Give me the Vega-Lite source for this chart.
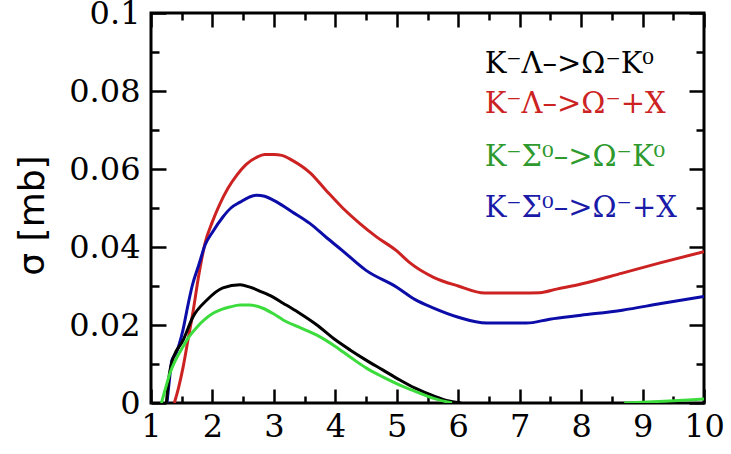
{
  "$schema": "https://vega.github.io/schema/vega-lite/v6.json",
  "width": 553,
  "height": 390,
  "autosize": {"type": "none"},
  "padding": {"left": 151, "top": 13, "right": 27, "bottom": 51},
  "background": "white",
  "config": {
    "view": {"stroke": "black", "strokeWidth": 3},
    "axis": {
      "domain": false,
      "grid": false,
      "ticks": true,
      "tickColor": "black",
      "tickWidth": 2.5,
      "title": null,
      "labelFont": "DejaVu Serif",
      "labelFontSize": 32,
      "labelColor": "black",
      "labelFlush": false,
      "labelOverlap": false,
      "labelBound": false
    }
  },
  "datasets": {
    "curves": [
      {"E": 1.38, "s": 0, "k": "red", "g": 1},
      {"E": 1.45, "s": 0.004, "k": "red", "g": 1},
      {"E": 1.52, "s": 0.009, "k": "red", "g": 1},
      {"E": 1.6, "s": 0.016, "k": "red", "g": 1},
      {"E": 1.68, "s": 0.023, "k": "red", "g": 1},
      {"E": 1.78, "s": 0.033, "k": "red", "g": 1},
      {"E": 1.88, "s": 0.041, "k": "red", "g": 1},
      {"E": 2.0, "s": 0.0465, "k": "red", "g": 1},
      {"E": 2.12, "s": 0.051, "k": "red", "g": 1},
      {"E": 2.25, "s": 0.055, "k": "red", "g": 1},
      {"E": 2.4, "s": 0.0585, "k": "red", "g": 1},
      {"E": 2.55, "s": 0.0612, "k": "red", "g": 1},
      {"E": 2.72, "s": 0.063, "k": "red", "g": 1},
      {"E": 2.85, "s": 0.0637, "k": "red", "g": 1},
      {"E": 3.0, "s": 0.0637, "k": "red", "g": 1},
      {"E": 3.13, "s": 0.0635, "k": "red", "g": 1},
      {"E": 3.3, "s": 0.0622, "k": "red", "g": 1},
      {"E": 3.59, "s": 0.059, "k": "red", "g": 1},
      {"E": 3.85, "s": 0.0545, "k": "red", "g": 1},
      {"E": 4.12, "s": 0.05, "k": "red", "g": 1},
      {"E": 4.4, "s": 0.046, "k": "red", "g": 1},
      {"E": 4.67, "s": 0.0426, "k": "red", "g": 1},
      {"E": 5.0, "s": 0.039, "k": "red", "g": 1},
      {"E": 5.21, "s": 0.036, "k": "red", "g": 1},
      {"E": 5.59, "s": 0.0323, "k": "red", "g": 1},
      {"E": 6.0, "s": 0.03, "k": "red", "g": 1},
      {"E": 6.43, "s": 0.0282, "k": "red", "g": 1},
      {"E": 7.0, "s": 0.0282, "k": "red", "g": 1},
      {"E": 7.33, "s": 0.0283, "k": "red", "g": 1},
      {"E": 7.6, "s": 0.0292, "k": "red", "g": 1},
      {"E": 8.0, "s": 0.0305, "k": "red", "g": 1},
      {"E": 8.67, "s": 0.0333, "k": "red", "g": 1},
      {"E": 9.3, "s": 0.036, "k": "red", "g": 1},
      {"E": 10.0, "s": 0.0388, "k": "red", "g": 1},

      {"E": 1.26, "s": 0, "k": "blue", "g": 1},
      {"E": 1.3, "s": 0.006, "k": "blue", "g": 1},
      {"E": 1.34, "s": 0.011, "k": "blue", "g": 1},
      {"E": 1.4, "s": 0.0125, "k": "blue", "g": 1},
      {"E": 1.52, "s": 0.0187, "k": "blue", "g": 1},
      {"E": 1.6, "s": 0.025, "k": "blue", "g": 1},
      {"E": 1.67, "s": 0.03, "k": "blue", "g": 1},
      {"E": 1.78, "s": 0.0355, "k": "blue", "g": 1},
      {"E": 1.88, "s": 0.0405, "k": "blue", "g": 1},
      {"E": 2.0, "s": 0.0438, "k": "blue", "g": 1},
      {"E": 2.17, "s": 0.0477, "k": "blue", "g": 1},
      {"E": 2.3, "s": 0.05, "k": "blue", "g": 1},
      {"E": 2.45, "s": 0.0515, "k": "blue", "g": 1},
      {"E": 2.6, "s": 0.0528, "k": "blue", "g": 1},
      {"E": 2.72, "s": 0.0533, "k": "blue", "g": 1},
      {"E": 2.85, "s": 0.053, "k": "blue", "g": 1},
      {"E": 3.05, "s": 0.0515, "k": "blue", "g": 1},
      {"E": 3.3, "s": 0.049, "k": "blue", "g": 1},
      {"E": 3.59, "s": 0.046, "k": "blue", "g": 1},
      {"E": 3.85, "s": 0.0425, "k": "blue", "g": 1},
      {"E": 4.12, "s": 0.039, "k": "blue", "g": 1},
      {"E": 4.5, "s": 0.034, "k": "blue", "g": 1},
      {"E": 5.0, "s": 0.0297, "k": "blue", "g": 1},
      {"E": 5.3, "s": 0.0265, "k": "blue", "g": 1},
      {"E": 5.59, "s": 0.0244, "k": "blue", "g": 1},
      {"E": 6.0, "s": 0.022, "k": "blue", "g": 1},
      {"E": 6.46, "s": 0.0205, "k": "blue", "g": 1},
      {"E": 7.11, "s": 0.0205, "k": "blue", "g": 1},
      {"E": 7.49, "s": 0.0215, "k": "blue", "g": 1},
      {"E": 8.0, "s": 0.0225, "k": "blue", "g": 1},
      {"E": 8.67, "s": 0.0238, "k": "blue", "g": 1},
      {"E": 9.3, "s": 0.0255, "k": "blue", "g": 1},
      {"E": 10.0, "s": 0.0273, "k": "blue", "g": 1},

      {"E": 1.25, "s": 0, "k": "black", "g": 1},
      {"E": 1.3, "s": 0.0075, "k": "black", "g": 1},
      {"E": 1.34, "s": 0.0105, "k": "black", "g": 1},
      {"E": 1.38, "s": 0.0123, "k": "black", "g": 1},
      {"E": 1.52, "s": 0.016, "k": "black", "g": 1},
      {"E": 1.68, "s": 0.022, "k": "black", "g": 1},
      {"E": 1.91, "s": 0.0264, "k": "black", "g": 1},
      {"E": 2.17, "s": 0.0295, "k": "black", "g": 1},
      {"E": 2.45, "s": 0.0303, "k": "black", "g": 1},
      {"E": 2.61, "s": 0.0297, "k": "black", "g": 1},
      {"E": 2.8, "s": 0.0285, "k": "black", "g": 1},
      {"E": 2.98, "s": 0.0272, "k": "black", "g": 1},
      {"E": 3.15, "s": 0.0256, "k": "black", "g": 1},
      {"E": 3.4, "s": 0.0232, "k": "black", "g": 1},
      {"E": 3.7, "s": 0.02, "k": "black", "g": 1},
      {"E": 4.0, "s": 0.0162, "k": "black", "g": 1},
      {"E": 4.24, "s": 0.0136, "k": "black", "g": 1},
      {"E": 4.5, "s": 0.011, "k": "black", "g": 1},
      {"E": 4.77, "s": 0.0085, "k": "black", "g": 1},
      {"E": 5.05, "s": 0.0059, "k": "black", "g": 1},
      {"E": 5.3, "s": 0.0038, "k": "black", "g": 1},
      {"E": 5.6, "s": 0.0018, "k": "black", "g": 1},
      {"E": 5.85, "s": 0.0005, "k": "black", "g": 1},
      {"E": 6.05, "s": 0, "k": "black", "g": 1},

      {"E": 1.17, "s": 0, "k": "green", "g": 1},
      {"E": 1.24, "s": 0.004, "k": "green", "g": 1},
      {"E": 1.31, "s": 0.0077, "k": "green", "g": 1},
      {"E": 1.4, "s": 0.011, "k": "green", "g": 1},
      {"E": 1.52, "s": 0.0144, "k": "green", "g": 1},
      {"E": 1.62, "s": 0.017, "k": "green", "g": 1},
      {"E": 1.75, "s": 0.0195, "k": "green", "g": 1},
      {"E": 1.88, "s": 0.0215, "k": "green", "g": 1},
      {"E": 2.01, "s": 0.023, "k": "green", "g": 1},
      {"E": 2.15, "s": 0.024, "k": "green", "g": 1},
      {"E": 2.28, "s": 0.0246, "k": "green", "g": 1},
      {"E": 2.45, "s": 0.0251, "k": "green", "g": 1},
      {"E": 2.6, "s": 0.0251, "k": "green", "g": 1},
      {"E": 2.82, "s": 0.0243, "k": "green", "g": 1},
      {"E": 3.0, "s": 0.0228, "k": "green", "g": 1},
      {"E": 3.15, "s": 0.0213, "k": "green", "g": 1},
      {"E": 3.4, "s": 0.0195, "k": "green", "g": 1},
      {"E": 3.7, "s": 0.0174, "k": "green", "g": 1},
      {"E": 4.0, "s": 0.0145, "k": "green", "g": 1},
      {"E": 4.24, "s": 0.0118, "k": "green", "g": 1},
      {"E": 4.5, "s": 0.009, "k": "green", "g": 1},
      {"E": 4.77, "s": 0.0067, "k": "green", "g": 1},
      {"E": 5.05, "s": 0.0046, "k": "green", "g": 1},
      {"E": 5.3, "s": 0.003, "k": "green", "g": 1},
      {"E": 5.6, "s": 0.0012, "k": "green", "g": 1},
      {"E": 5.9, "s": 0, "k": "green", "g": 1},
      {"E": 8.7, "s": 0, "k": "green", "g": 2},
      {"E": 9.0, "s": 0.0002, "k": "green", "g": 2},
      {"E": 9.5, "s": 0.0006, "k": "green", "g": 2},
      {"E": 10.0, "s": 0.001, "k": "green", "g": 2}
    ],
    "legend": [
      {"label": "K⁻Λ–>Ω⁻K⁰", "E": 6.43, "s": 0.0869, "k": "black"},
      {"label": "K⁻Λ–>Ω⁻+X", "E": 6.43, "s": 0.0767, "k": "red"},
      {"label": "K⁻Σ⁰–>Ω⁻K⁰", "E": 6.43, "s": 0.0631, "k": "green"},
      {"label": "K⁻Σ⁰–>Ω⁻+X", "E": 6.43, "s": 0.05, "k": "blue"}
    ]
  },
  "resolve": {
    "axis": {"x": "independent", "y": "independent"},
    "scale": {"color": "independent"}
  },
  "layer": [
    {
      "data": {"name": "curves"},
      "mark": {"type": "line", "strokeWidth": 3, "interpolate": "monotone", "clip": true},
      "encoding": {
        "x": {
          "field": "E", "type": "quantitative",
          "scale": {"domain": [1, 10], "nice": false, "zero": false},
          "axis": {
            "orient": "bottom",
            "values": [1, 2, 3, 4, 5, 6, 7, 8, 9, 10],
            "tickSize": 14,
            "offset": -14,
            "format": "d",
            "labelPadding": 8
          }
        },
        "y": {
          "field": "s", "type": "quantitative",
          "scale": {"domain": [0, 0.1], "nice": false, "zero": true},
          "axis": {
            "orient": "left",
            "values": [0, 0.02, 0.04, 0.06, 0.08, 0.1],
            "tickSize": 15,
            "offset": -15,
            "format": ".2~f",
            "labelPadding": 11,
            "title": "σ [mb]",
            "titleFont": "DejaVu Sans",
            "titleFontSize": 36,
            "titleFontWeight": "normal",
            "titleColor": "black",
            "titleAlign": "center",
            "titleX": -115,
            "titleY": 202
          }
        },
        "color": {
          "field": "k", "type": "nominal",
          "scale": {"domain": ["black", "red", "green", "blue"], "range": ["#000000", "#cc2222", "#3ddc3d", "#0c0ca8"]},
          "legend": null
        },
        "detail": {"field": "g", "type": "nominal"}
      }
    },
    {
      "data": {"name": "curves"},
      "mark": {"type": "point", "opacity": 0},
      "encoding": {
        "x": {
          "field": "E", "type": "quantitative",
          "scale": {"domain": [1, 10], "nice": false, "zero": false},
          "axis": {"orient": "top", "labels": false, "values": [1, 2, 3, 4, 5, 6, 7, 8, 9, 10], "tickSize": 14, "offset": -14}
        },
        "y": {
          "field": "s", "type": "quantitative",
          "scale": {"domain": [0, 0.1], "nice": false, "zero": true},
          "axis": {"orient": "right", "labels": false, "values": [0, 0.02, 0.04, 0.06, 0.08, 0.1], "tickSize": 15, "offset": -15}
        }
      }
    },
    {
      "data": {"name": "curves"},
      "mark": {"type": "point", "opacity": 0},
      "encoding": {
        "x": {
          "field": "E", "type": "quantitative",
          "scale": {"domain": [1, 10], "nice": false, "zero": false},
          "axis": {"orient": "bottom", "labels": false, "values": [1.5, 2.5, 3.5, 4.5, 5.5, 6.5, 7.5, 8.5, 9.5], "tickSize": 7, "offset": -7}
        },
        "y": {
          "field": "s", "type": "quantitative",
          "scale": {"domain": [0, 0.1], "nice": false, "zero": true},
          "axis": {"orient": "left", "labels": false, "values": [0.01, 0.03, 0.05, 0.07, 0.09], "tickSize": 8, "offset": -8}
        }
      }
    },
    {
      "data": {"name": "curves"},
      "mark": {"type": "point", "opacity": 0},
      "encoding": {
        "x": {
          "field": "E", "type": "quantitative",
          "scale": {"domain": [1, 10], "nice": false, "zero": false},
          "axis": {"orient": "top", "labels": false, "values": [1.5, 2.5, 3.5, 4.5, 5.5, 6.5, 7.5, 8.5, 9.5], "tickSize": 7, "offset": -7}
        },
        "y": {
          "field": "s", "type": "quantitative",
          "scale": {"domain": [0, 0.1], "nice": false, "zero": true},
          "axis": {"orient": "right", "labels": false, "values": [0.01, 0.03, 0.05, 0.07, 0.09], "tickSize": 8, "offset": -8}
        }
      }
    },
    {
      "data": {"name": "legend"},
      "mark": {"type": "text", "align": "left", "baseline": "middle", "font": "DejaVu Serif", "fontSize": 29},
      "encoding": {
        "x": {"field": "E", "type": "quantitative", "scale": {"domain": [1, 10], "nice": false, "zero": false}, "axis": null},
        "y": {"field": "s", "type": "quantitative", "scale": {"domain": [0, 0.1], "nice": false, "zero": true}, "axis": null},
        "text": {"field": "label"},
        "color": {
          "field": "k", "type": "nominal",
          "scale": {"domain": ["black", "red", "green", "blue"], "range": ["#000000", "#cc2222", "#2e9a2e", "#1a1aa8"]},
          "legend": null
        }
      }
    }
  ]
}
